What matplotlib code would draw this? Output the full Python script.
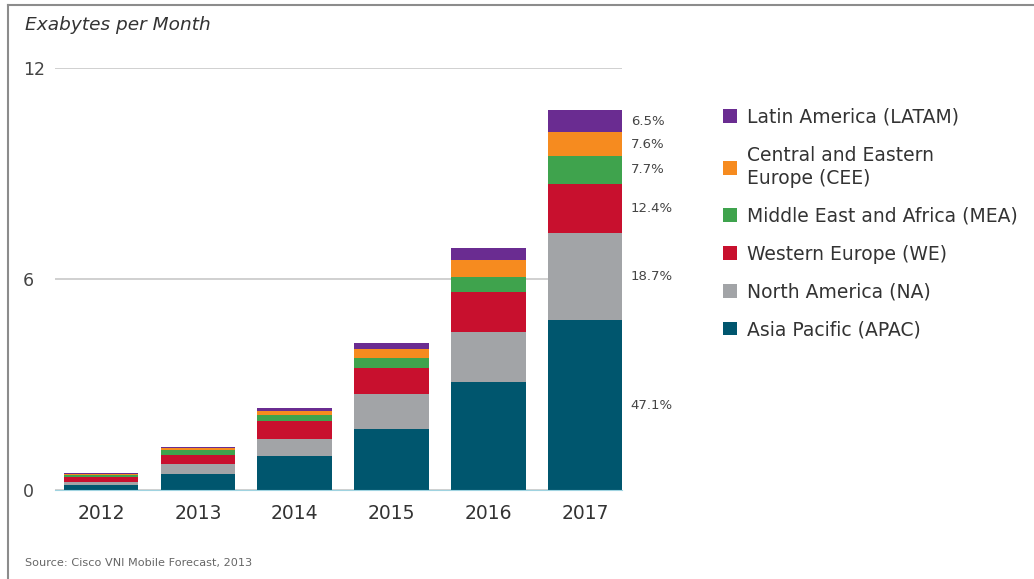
import matplotlib.pyplot as plt
import numpy as np

# data (exabytes per month)
years = ["2012", "2013", "2014", "2015", "2016", "2017"]
apac = [0.14, 0.46, 0.96, 1.73, 3.06, 4.83]
na = [0.09, 0.28, 0.48, 1.00, 1.42, 2.49]
we = [0.13, 0.26, 0.53, 0.73, 1.15, 1.39]
mea = [0.06, 0.14, 0.16, 0.28, 0.44, 0.79]
cee = [0.04, 0.05, 0.11, 0.26, 0.47, 0.67]
latam = [0.03, 0.03, 0.09, 0.17, 0.35, 0.63]
shares_2017 = ["47.1%", "18.7%", "12.4%", "7.7%", "7.6%", "6.5%"]

names = ["Asia Pacific (APAC)", "North America (NA)", "Western Europe (WE)",
         "Middle East and Africa (MEA)", "Central and Eastern\nEurope (CEE)",
         "Latin America (LATAM)"]
colors = ["#00566e", "#a2a4a7", "#c8102e", "#3fa34d", "#f68b1f", "#6a2c91"]
series = [apac, na, we, mea, cee, latam]

fig = plt.figure(figsize=(10.34, 5.79), dpi=100)
ax = fig.add_axes([55/1034, 1 - 490/579, 567/1034, 422/579])

x = np.arange(len(years))
bottom = np.zeros(len(years))
handles = []
for vals, c, name in zip(series, colors, names):
    b = ax.bar(x, vals, 0.77, bottom=bottom, color=c, label=name, zorder=2)
    handles.append(b)
    bottom += np.array(vals)

# share labels beside the 2017 bar
bottom = 0
for vals, lab in zip(series, shares_2017):
    ax.text(5.47, bottom + vals[-1] / 2, lab, fontsize=9.5, color="#444444",
            va="center", ha="left")
    bottom += vals[-1]

ax.set_xlim(-0.476, 5.38)
ax.set_ylim(0, 12)
ax.set_yticks([0, 6, 12])
ax.set_yticklabels(["0", "6", "12"], fontsize=12.5, color="#444444")
for lab in ax.get_yticklabels():
    lab.set_horizontalalignment("left")
ax.tick_params(axis="y", length=0, pad=23)
ax.set_xticks(x)
ax.set_xticklabels(years, fontsize=13.5, color="#333333")
ax.tick_params(axis="x", length=0, pad=10)
for s in ["top", "right", "left"]:
    ax.spines[s].set_visible(False)
ax.spines["bottom"].set_color("#9fd3e0")
ax.grid(axis="y", color="#c8c8c8", linewidth=1.2, zorder=1)
ax.set_axisbelow(True)

leg = fig.legend(handles[::-1], names[::-1], loc="upper left",
                 bbox_to_anchor=(706/1034, 1 - 91/579), frameon=False,
                 fontsize=13.5, handlelength=0.75, handleheight=0.75,
                 handletextpad=0.55, labelspacing=1.0, labelcolor="#333333")
for t in leg.get_texts():
    t.set_linespacing(1.3)

fig.text(25/1034, 1 - 25/579, "Exabytes per Month", fontsize=13.3,
         style="italic", color="#333333", va="center")
fig.text(25/1034, 1 - 563/579, "Source: Cisco VNI Mobile Forecast, 2013",
         fontsize=8.1, color="#666666", va="center")

# border lines of the original frame
fig.add_artist(plt.Line2D([8/1034, 1], [1 - 5/579, 1 - 5/579], color="#8c8c8c", lw=1.5))
fig.add_artist(plt.Line2D([8/1034, 8/1034], [0, 1 - 5/579], color="#8c8c8c", lw=1.5))

fig.savefig("out.png", dpi=100)
